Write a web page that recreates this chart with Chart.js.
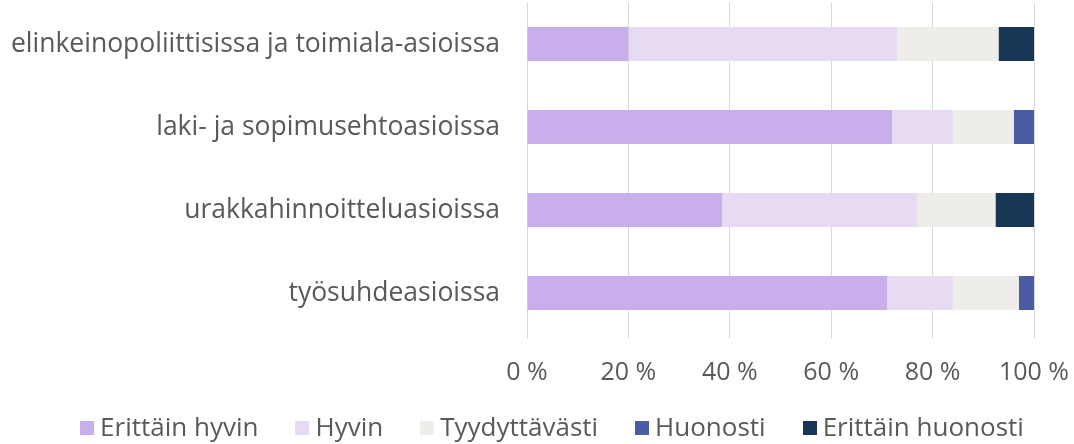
<!DOCTYPE html>
<html>
<head>
<meta charset="utf-8">
<script src="https://cdn.jsdelivr.net/npm/chart.js@4.4.1/dist/chart.umd.min.js"></script>
<style>
html,body{margin:0;padding:0;background:#fff;}
#wrap{width:1074px;height:444px;}
</style>
</head>
<body>
<div id="wrap"><canvas id="c" width="1074" height="444"></canvas></div>
<script>
const categories = [
  "elinkeinopoliittisissa ja toimiala-asioissa",
  "laki- ja sopimusehtoasioissa",
  "urakkahinnoitteluasioissa",
  "työsuhdeasioissa"
];
const seriesNames = ["Erittäin hyvin", "Hyvin", "Tyydyttävästi", "Huonosti", "Erittäin huonosti"];
const erittainHyvin = [20, 72, 38.5, 71];
const hyvin = [53, 12, 38.5, 13];
const tyydyttavasti = [20, 12, 15.4, 13];
const huonosti = [0, 4, 0, 3];
const erittainHuonosti = [7, 0, 7.6, 0];
const xTicks = [0, 20, 40, 60, 80, 100];

const colors = ["#C9AEEC", "#E7DAF3", "#EEEDEA", "#4B5CA3", "#183754"];
const FONT = '"Open Sans", "DejaVu Sans", sans-serif';
const TXT = '#595959';

const seriesData = [erittainHyvin, hyvin, tyydyttavasti, huonosti, erittainHuonosti];

const legendPlugin = {
  id: 'customLegend',
  afterDraw(chart) {
    const ctx = chart.ctx;
    ctx.save();
    ctx.font = '26px ' + FONT;
    const items = chart.data.datasets.map(d => ({label: d.label, color: d.backgroundColor, w: ctx.measureText(d.label).width}));
    const box = 14, gap = 6, sep = 37;
    const total = items.reduce((s, it) => s + box + gap + it.w, 0) + sep * (items.length - 1);
    let x = 552 - total / 2;
    const y = 428;
    ctx.textBaseline = 'middle';
    ctx.textAlign = 'left';
    items.forEach(it => {
      ctx.fillStyle = it.color;
      ctx.fillRect(Math.round(x), y - 7, box, box);
      x += box + gap;
      ctx.fillStyle = TXT;
      ctx.fillText(it.label, x, y + 1);
      x += it.w + sep;
    });
    ctx.restore();
  }
};

new Chart(document.getElementById('c'), {
  type: 'bar',
  data: {
    labels: categories,
    datasets: seriesNames.map((n, i) => ({
      label: n,
      data: seriesData[i],
      backgroundColor: colors[i],
      borderWidth: 0,
      barPercentage: 1,
      categoryPercentage: 0.41
    }))
  },
  options: {
    indexAxis: 'y',
    responsive: false,
    animation: false,
    devicePixelRatio: 1,
    layout: {padding: {top: 2.5, right: 40, bottom: 49.5, left: 0}},
    plugins: {legend: {display: false}, tooltip: {enabled: false}},
    scales: {
      x: {
        stacked: true,
        min: 0, max: 100,
        afterBuildTicks(scale) { scale.ticks = xTicks.map(v => ({value: v})); },
        afterFit(scale) { scale.height = 60; scale.paddingLeft = 0; scale.paddingRight = 0; scale.paddingTop = 0; scale.paddingBottom = 0; },
        grid: {color: '#D9D9D9', lineWidth: 1, drawTicks: true, tickLength: 4},
        border: {display: false},
        ticks: {
          callback: v => v + ' %',
          color: TXT,
          font: {family: FONT, size: 25},
          padding: 19,
          maxRotation: 0
        }
      },
      y: {
        stacked: true,
        afterFit(scale) { scale.width = 527; scale.paddingTop = 0; scale.paddingBottom = 0; scale.paddingLeft = 0; scale.paddingRight = 0; },
        grid: {display: false, drawTicks: false},
        border: {display: false},
        ticks: {
          color: TXT,
          font: {family: FONT, size: 26.5},
          padding: 27
        }
      }
    }
  },
  plugins: [legendPlugin]
});
</script>
</body>
</html>
